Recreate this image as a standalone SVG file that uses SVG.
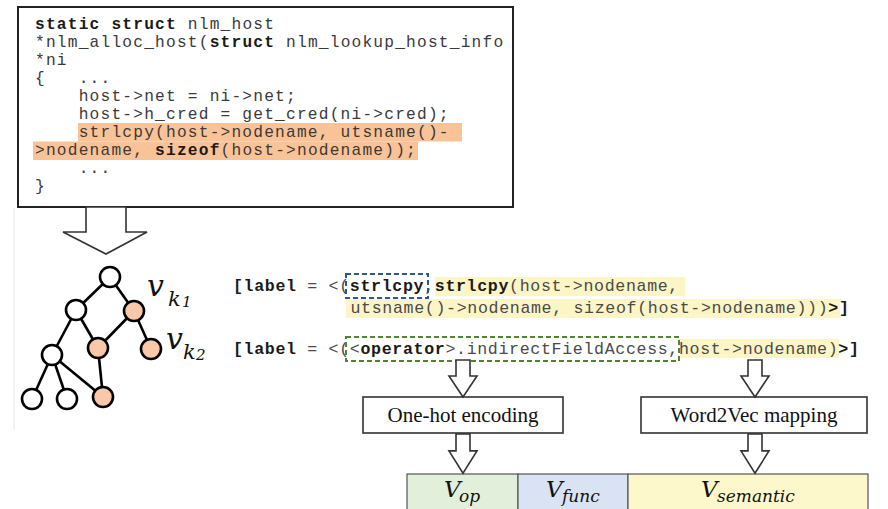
<svg xmlns="http://www.w3.org/2000/svg" width="888" height="509" viewBox="0 0 888 509">
<style>
.code{font-family:"Liberation Mono","DejaVu Sans Mono",monospace;font-size:16.2px;letter-spacing:1.2px;fill:#3a3a3a}
.lbl{font-family:"Liberation Mono","DejaVu Sans Mono",monospace;font-size:16.6px;letter-spacing:0.66px;fill:#4a4a4a}
.b{font-weight:bold;fill:#1a1a1a}
.box{fill:#fff;stroke:#333;stroke-width:1.6}
.btxt{font-family:"Liberation Serif","Times New Roman",serif;font-size:21px;fill:#111;text-anchor:middle}
.arrow{fill:#fff;stroke:#333;stroke-width:1.6;stroke-linejoin:miter}
.edge{stroke:#000;stroke-width:2.6;fill:none}
.nw{fill:#fff;stroke:#000;stroke-width:2.6}
.no{fill:#f8c9a8;stroke:#000;stroke-width:2.6}
.math{font-family:"DejaVu Serif","Liberation Serif",serif;font-style:italic;fill:#111}
</style>
<defs>
<path id="harrow" d="M-7,0 H7 V16 H14 L0,37 L-14,16 H-7 Z"/>
</defs>
<rect width="888" height="509" fill="#fff"/>
<line x1="14" y1="208" x2="14" y2="430" stroke="#e8e8e8" stroke-width="1"/>

<g id="code">
<rect x="18" y="7" width="495" height="200" fill="#fff" stroke="#222" stroke-width="2"/>
<rect x="78" y="123" width="384" height="18.5" fill="#fac397"/>
<rect x="33" y="141.5" width="385" height="18.5" fill="#fac397"/>
<text class="code" x="35" y="29" xml:space="preserve"><tspan class="b">static struct</tspan> nlm_host</text>
<text class="code" x="35" y="47" xml:space="preserve">*nlm_alloc_host(<tspan class="b">struct</tspan> nlm_lookup_host_info</text>
<text class="code" x="35" y="65" xml:space="preserve">*ni</text>
<text class="code" x="35" y="83" xml:space="preserve">{   ...</text>
<text class="code" x="35" y="101" xml:space="preserve">    host-&gt;net = ni-&gt;net;</text>
<text class="code" x="35" y="119" xml:space="preserve">    host-&gt;h_cred = get_cred(ni-&gt;cred);</text>
<text class="code" x="35" y="137" xml:space="preserve">    strlcpy(host-&gt;nodename, utsname()-</text>
<text class="code" x="35" y="155" xml:space="preserve">&gt;nodename, <tspan class="b">sizeof</tspan>(host-&gt;nodename));</text>
<text class="code" x="35" y="173" xml:space="preserve">    ...</text>
<text class="code" x="35" y="191" xml:space="preserve">}</text>
</g>

<g id="tree">
<g class="edges">
<line class="edge" x1="110" y1="277" x2="76" y2="310"/>
<line class="edge" x1="110" y1="277" x2="134" y2="311"/>
<line class="edge" x1="76" y1="310" x2="98" y2="348"/>
<line class="edge" x1="134" y1="311" x2="98" y2="348"/>
<line class="edge" x1="134" y1="311" x2="151" y2="349"/>
<line class="edge" x1="76" y1="310" x2="52" y2="355"/>
<line class="edge" x1="98" y1="348" x2="103" y2="397"/>
<line class="edge" x1="52" y1="355" x2="32" y2="399"/>
<line class="edge" x1="52" y1="355" x2="67" y2="399"/>
<line class="edge" x1="52" y1="355" x2="103" y2="397"/>
</g>
<circle class="nw" cx="110" cy="277" r="10"/>
<circle class="nw" cx="76" cy="310" r="10"/>
<circle class="no" cx="134" cy="311" r="10"/>
<circle class="no" cx="98" cy="348" r="10"/>
<circle class="no" cx="151" cy="349" r="10"/>
<circle class="nw" cx="52" cy="355" r="10"/>
<circle class="nw" cx="32" cy="399" r="10"/>
<circle class="nw" cx="67" cy="399" r="10"/>
<circle class="no" cx="103" cy="397" r="10"/>
<text class="math" x="147" y="296" font-size="30">v</text>
<text class="math" x="168" y="306" font-size="21">k</text>
<text class="math" x="182" y="307" font-size="15" font-style="normal">1</text>
<text class="math" x="166" y="349" font-size="30">v</text>
<text class="math" x="183" y="359" font-size="21">k</text>
<text class="math" x="196" y="360" font-size="15" font-style="normal">2</text>
</g>

<g id="labels">
<rect x="435" y="277" width="250" height="19" fill="#fcf5c6"/>
<rect x="346" y="299" width="494" height="19" fill="#fcf5c6"/>
<rect x="680" y="339" width="159" height="19" fill="#fcf5c6"/>
<text class="lbl" x="233" y="291" xml:space="preserve"><tspan class="b">[label</tspan> = &lt;(<tspan class="b">strlcpy</tspan>,<tspan class="b">strlcpy</tspan>(host-&gt;nodename,</text>
<text class="lbl" x="350.5" y="313" xml:space="preserve">utsname()-&gt;nodename, sizeof(host-&gt;nodename)))<tspan class="b">&gt;]</tspan></text>
<text class="lbl" x="233" y="354" xml:space="preserve"><tspan class="b">[label</tspan> = &lt;(&lt;<tspan class="b">operator</tspan>&gt;.indirectFieldAccess,host-&gt;nodename)<tspan class="b">&gt;]</tspan></text>
<rect x="346" y="274" width="82" height="24" fill="none" stroke="#2f5597" stroke-width="2" stroke-dasharray="5,3"/>
<rect x="346" y="337" width="333" height="24" fill="none" stroke="#548235" stroke-width="2" stroke-dasharray="5,3"/>
</g>

<g id="onehot">
<rect class="box" x="363" y="397" width="200" height="36"/>
<text class="btxt" x="463" y="422">One-hot encoding</text>
</g>
<g id="word2vec">
<rect class="box" x="641" y="397" width="226" height="36"/>
<text class="btxt" x="754" y="422">Word2Vec mapping</text>
</g>

<g id="vector">
<rect x="407" y="474" width="111" height="40" fill="#e2efda" stroke="#555" stroke-width="1.2"/>
<rect x="518" y="474" width="110" height="40" fill="#dae3f3" stroke="#555" stroke-width="1.2"/>
<rect x="628" y="474" width="240" height="40" fill="#fdf8cc" stroke="#555" stroke-width="1.2"/>
<text class="math" x="444" y="497" font-size="23">V</text>
<text class="math" x="459" y="502" font-size="17">op</text>
<text class="math" x="546" y="497" font-size="23">V</text>
<text class="math" x="562" y="502" font-size="17">func</text>
<text class="math" x="701" y="497" font-size="23">V</text>
<text class="math" x="717" y="502" font-size="17">semantic</text>
</g>

<g id="connectors">
<path class="arrow" d="M86,207 H126 V232 H147 L106,254 L63,232 H86 Z"/>
<use href="#harrow" class="arrow" transform="translate(463,360)"/>
<use href="#harrow" class="arrow" transform="translate(755,360)"/>
<use href="#harrow" class="arrow" transform="translate(463,434) scale(1,1.06)"/>
<use href="#harrow" class="arrow" transform="translate(755,434) scale(1,1.06)"/>
</g>
</svg>
